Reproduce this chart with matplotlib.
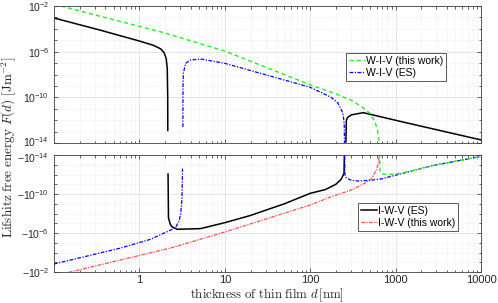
import numpy as np
import matplotlib
matplotlib.use("Agg")
import matplotlib.pyplot as plt
import matplotlib.transforms as mtransforms
from matplotlib.ticker import FixedLocator, FuncFormatter, NullFormatter, LogLocator

plt.rcParams['font.family'] = ['Liberation Sans', 'DejaVu Sans']
plt.rcParams['mathtext.fontset'] = 'custom'
plt.rcParams['mathtext.rm'] = 'Liberation Sans'
plt.rcParams['mathtext.it'] = 'Liberation Sans:italic'
plt.rcParams['mathtext.bf'] = 'Liberation Sans:bold'

# ---------------- data (thickness d [nm], sign and log10|F| [J m^-2]) ----------------
# I-W-V (ES)  -- black
d_iwv_es = [0.1, 0.35, 1.0, 1.47, 1.77, 1.95, 2.06, 2.12, 2.145, 2.15,
            2.165, 2.19, 2.3, 2.42, 2.78, 5.2, 10, 20, 50, 100, 150, 200, 230, 249, 251.5,
            262, 265, 275, 303, 417, 1170, 10000]
s_iwv_es = [1, 1, 1, 1, 1, 1, 1, 1, 1, 1,
            -1, -1, -1, -1, -1, -1, -1, -1, -1, -1, -1, -1, -1, -1, -1,
            1, 1, 1, 1, 1, 1, 1]
e_iwv_es = [-3.05, -4.12, -5.07, -5.45, -5.75, -6.1, -6.6, -7.5, -10.0, -12.9,
            -12.05, -7.54, -6.9, -6.62, -6.38, -6.45, -7.06, -7.8, -9.0, -10.07, -10.45, -11.0, -11.5, -12.1, -14.3,
            -13.9, -12.0, -11.75, -11.54, -11.34, -12.13, -13.73]

# W-I-V (ES)  -- blue
d_wiv_es = [0.1, 0.585, 1.35, 2.32, 2.65, 2.9, 3.05, 3.15, 3.2,
            3.23, 3.24, 3.27, 3.47, 3.98, 5.2, 10, 100, 176, 211, 242, 250, 252.5,
            253.5, 255, 265, 303, 364, 523, 685, 1074, 2660, 10000]
s_wiv_es = [-1, -1, -1, -1, -1, -1, -1, -1, -1,
            1, 1, 1, 1, 1, 1, 1, 1, 1, 1, 1, 1, 1,
            -1, -1, -1, -1, -1, -1, -1, -1, -1, -1]
e_wiv_es = [-2.82, -4.43, -5.35, -6.3, -6.58, -7.16, -8.0, -9.5, -12.6,
            -12.6, -9.0, -7.9, -7.02, -6.73, -6.64, -7.02, -9.12, -10.0, -10.5, -11.4, -12.3, -14.3,
            -13.9, -12.0, -11.65, -11.4, -11.33, -11.42, -11.55, -12.0, -12.9, -13.85]

# W-I-V (this work)  -- green dashed
d_wiv_tw = [0.1, 1.85, 10, 100, 200, 300, 400, 500, 570, 610, 635, 645,
            650, 655, 665, 700, 850, 1100, 1500, 2660, 10000]
s_wiv_tw = [1, 1, 1, 1, 1, 1, 1, 1, 1, 1, 1, 1,
            -1, -1, -1, -1, -1, -1, -1, -1, -1]
e_wiv_tw = [-1.85, -4.3, -5.95, -8.9, -9.7, -10.25, -10.8, -11.4, -12.1, -12.8, -13.5, -14.5,
            -14.2, -12.5, -12.2, -12.05, -12.0, -12.1, -12.35, -12.9, -13.85]

# I-W-V (this work)  -- red
d_iwv_tw = [0.1, 0.155, 2.32, 10, 100, 176, 303, 435, 523, 595, 630, 645]
s_iwv_tw = [-1, -1, -1, -1, -1, -1, -1, -1, -1, -1, -1, -1]
e_iwv_tw = [-1.6, -2.0, -4.46, -6.1, -8.87, -9.72, -10.41, -11.1, -11.6, -12.46, -13.2, -14.2]

x_ticks = [1, 10, 100, 1000, 10000]
y_top_ticks = [1e-14, 1e-10, 1e-6, 1e-2]

# ---------------- figure ----------------
W, H = 498, 303
fig = plt.figure(figsize=(W / 100, H / 100), dpi=100)
ax1 = fig.add_axes([54 / W, 1 - 143 / H, 427 / W, 137 / H])
ax2 = fig.add_axes([54 / W, 1 - 272 / H, 427 / W, 117 / H])

def split(d, s, e):
    d = np.asarray(d, float)
    s = np.asarray(s, float)
    v = 10.0 ** np.asarray(e, float)
    pos = np.where(s > 0, v, np.nan)
    neg = np.where(s < 0, v, np.nan)
    return d, pos, neg

series = [
    (d_iwv_es, s_iwv_es, e_iwv_es, dict(color='black', ls='-', lw=1.1)),
    (d_iwv_tw, s_iwv_tw, e_iwv_tw, dict(color='#ff4d4d', ls=(0, (3, 1, 1, 1)), lw=0.9)),
    (d_wiv_es, s_wiv_es, e_wiv_es, dict(color='#0000ff', ls=(0, (3, 1.2, 1, 1.2)), lw=0.9)),
    (d_wiv_tw, s_wiv_tw, e_wiv_tw, dict(color='#22ee22', ls=(0, (3, 2.2)), lw=1.0)),
]
handles = {}
for (d, s, e, st), name in zip(series, ['I-W-V (ES)', 'I-W-V (this work)', 'W-I-V (ES)', 'W-I-V (this work)']):
    dd, pos, neg = split(d, s, e)
    h1, = ax1.plot(dd, pos, **st)
    h2, = ax2.plot(dd, neg, **st)
    handles[name] = h1

frame_col = '#262626'
for ax in (ax1, ax2):
    ax.set_xscale('log')
    ax.set_yscale('log')
    ax.set_xlim(0.1, 10000)
    ax.set_ylim(1e-14, 1e-2)
    ax.xaxis.set_major_locator(FixedLocator(x_ticks))
    ax.xaxis.set_minor_locator(LogLocator(base=10, subs=np.arange(2, 10), numticks=20))
    ax.yaxis.set_major_locator(FixedLocator(y_top_ticks))
    ax.yaxis.set_minor_locator(LogLocator(base=10, subs=[1.0], numticks=30))
    ax.yaxis.set_minor_formatter(NullFormatter())
    ax.xaxis.set_minor_formatter(NullFormatter())
    ax.tick_params(which='both', direction='in', top=True, right=True,
                   colors=frame_col, labelcolor=frame_col, labelsize=8, width=0.5)
    ax.tick_params(axis='y', which='major', labelsize=7.5)
    ax.tick_params(which='major', length=3)
    ax.tick_params(which='minor', length=1.8)
    ax.grid(True, which='major', color='#dcdcdc', lw=0.5, ls='-')
    ax.grid(True, which='minor', color='#e4e4e4', lw=0.5, ls=':')
    ax.set_axisbelow(True)
    for sp in ax.spines.values():
        sp.set_color('#404040')
        sp.set_linewidth(0.6)

ax2.invert_yaxis()
ax1.xaxis.set_major_formatter(NullFormatter())
ax1.yaxis.set_major_formatter(FuncFormatter(lambda v, p: r'$10^{%d}$' % round(np.log10(v))))
ax2.yaxis.set_major_formatter(FuncFormatter(lambda v, p: r'$\mathregular{-10}^{%d}$' % round(np.log10(v))))
ax2.xaxis.set_major_formatter(FuncFormatter(lambda v, p: '%g' % v))
ax2.tick_params(axis='x', which='major', pad=2.5)

# nudge the two labels that meet at the gap between the panels
t_top = ax1.yaxis.get_major_ticks()[0]
t_top.label1.set_transform(t_top.label1.get_transform() +
                           mtransforms.ScaledTranslation(0, 2 / 100, fig.dpi_scale_trans))
t_bot = ax2.yaxis.get_major_ticks()[0]
t_bot.label1.set_transform(t_bot.label1.get_transform() +
                           mtransforms.ScaledTranslation(0, -2 / 100, fig.dpi_scale_trans))

leg_kw = dict(fontsize=7.5, handlelength=1.5, handletextpad=0.1, borderpad=0.3,
              labelspacing=0.15, fancybox=False, framealpha=1, edgecolor='#404040',
              loc='upper left', borderaxespad=0)
l1 = ax1.legend([handles['W-I-V (this work)'], handles['W-I-V (ES)']],
                ['W-I-V (this work)', 'W-I-V (ES)'],
                bbox_to_anchor=(346 / W, 1 - 53 / H), bbox_transform=fig.transFigure, **leg_kw)
l2 = ax2.legend([handles['I-W-V (ES)'], handles['I-W-V (this work)']],
                ['I-W-V (ES)', 'I-W-V (this work)'],
                bbox_to_anchor=(358 / W, 1 - 203 / H), bbox_transform=fig.transFigure, **leg_kw)
for l in (l1, l2):
    l.get_frame().set_linewidth(0.6)

fig.text(9 / W, 1 - 147 / H, r'$\mathrm{Lifshitz\ free\ energy}\ F(d)\ [\mathrm{Jm}^{-2}]$',
         rotation=90, ha='center', va='center', fontsize=9.5, math_fontfamily='cm', color='#262626')
fig.text(267 / W, 1 - 295 / H, r'$\mathrm{thickness\ of\ thin\ film}\ d\,[\mathrm{nm}]$',
         ha='center', va='center', fontsize=9.2, math_fontfamily='cm', color='#262626')

fig.savefig('out.png', dpi=100)
